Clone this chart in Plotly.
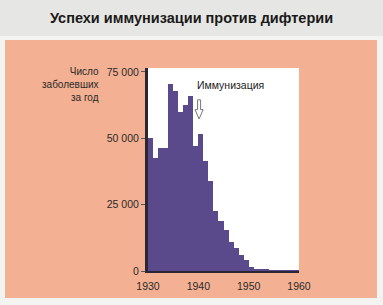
import plotly.graph_objects as go

years = list(range(1930, 1960))
cases = [50000, 42500, 46500, 46500, 70500, 68000, 60000, 62500, 66000, 47000,
         51500, 41500, 34000, 22500, 19000, 15500, 11000, 8500, 6000, 4000,
         1500, 800, 600, 400, 300, 250, 200, 150, 100, 80]
x_ticks = [1930, 1940, 1950, 1960]
y_ticks = [0, 25000, 50000, 75000]
y_tick_text = ["0", "25 000", "50 000", "75 000"]

title_text = "Успехи иммунизации против дифтерии"
y_title = "Число<br>заболевших<br>за год"
note_text = "Иммунизация"

W, H = 383, 305
L, R, T, B = 148, 84, 68, 34
PW, PH = W - L - R, H - T - B

fig = go.Figure()
fig.add_trace(go.Bar(
    x=[y + 0.5 for y in years], y=cases, width=1,
    marker=dict(color="#5b4a8b", line=dict(width=0)),
    hoverinfo="skip",
))

def px_x(p):
    return (p - L) / PW

def px_y(p):
    return (H - B - p) / PH

shapes = [
    # title band
    dict(type="rect", xref="paper", yref="paper", x0=px_x(0), x1=px_x(W), y0=px_y(36), y1=px_y(0),
         fillcolor="#e6e6e4", line=dict(width=0), layer="below"),
    # peach panel
    dict(type="rect", xref="paper", yref="paper", x0=px_x(5), x1=px_x(377), y0=px_y(298), y1=px_y(40),
         fillcolor="#f3b092", line=dict(width=0), layer="below"),
    # white plot area
    dict(type="rect", xref="paper", yref="paper", x0=0, x1=1, y0=0, y1=1,
         fillcolor="white", line=dict(width=0), layer="below"),
    # hollow down arrow
    dict(type="path", xref="x", yref="y",
         path="M 1939.85 64500 L 1940.45 64500 L 1940.45 60800 L 1940.95 60800 L 1940.15 57300 "
              "L 1939.35 60800 L 1939.85 60800 Z",
         fillcolor="white", line=dict(color="#777777", width=1)),
]

fig.add_annotation(xref="paper", yref="paper", x=px_x(191), y=px_y(18), text="<b>" + title_text + "</b>",
                   showarrow=False, xanchor="center", yanchor="middle",
                   font=dict(family="Liberation Sans, Arial", size=14.5, color="#1a1a1a"))
fig.add_annotation(xref="paper", yref="paper", x=px_x(101), y=px_y(64), text=y_title,
                   showarrow=False, xanchor="right", yanchor="top", align="right",
                   font=dict(family="Liberation Sans, Arial", size=10, color="#2a2a2a"))
fig.add_annotation(xref="x", yref="y", x=1939.4, y=70000, text=note_text,
                   showarrow=False, xanchor="left", yanchor="middle",
                   font=dict(family="Liberation Sans, Arial", size=10.5, color="#222222"))

fig.update_layout(
    width=W, height=H,
    margin=dict(l=L, r=R, t=T, b=B),
    paper_bgcolor="#f3f3f1",
    plot_bgcolor="rgba(0,0,0,0)",
    showlegend=False,
    bargap=0,
    shapes=shapes,
    font=dict(family="Liberation Sans, Arial", size=10.5, color="#2a2a2a"),
    xaxis=dict(range=[1930, 1960], tickvals=x_ticks, ticks="outside", ticklen=4,
               tickcolor="rgba(0,0,0,0)", showgrid=False, zeroline=False,
               showline=True, linecolor="#2a2633", linewidth=2, fixedrange=True,
               tickfont=dict(size=10.5)),
    yaxis=dict(range=[0, 76500], tickvals=y_ticks, ticktext=y_tick_text, ticks="outside",
               ticklen=4, tickcolor="#555555", showgrid=False, zeroline=False,
               showline=True, linecolor="#2a2633", linewidth=3, fixedrange=True,
               tickfont=dict(size=10.5)),
)

fig.write_html("out.html")
